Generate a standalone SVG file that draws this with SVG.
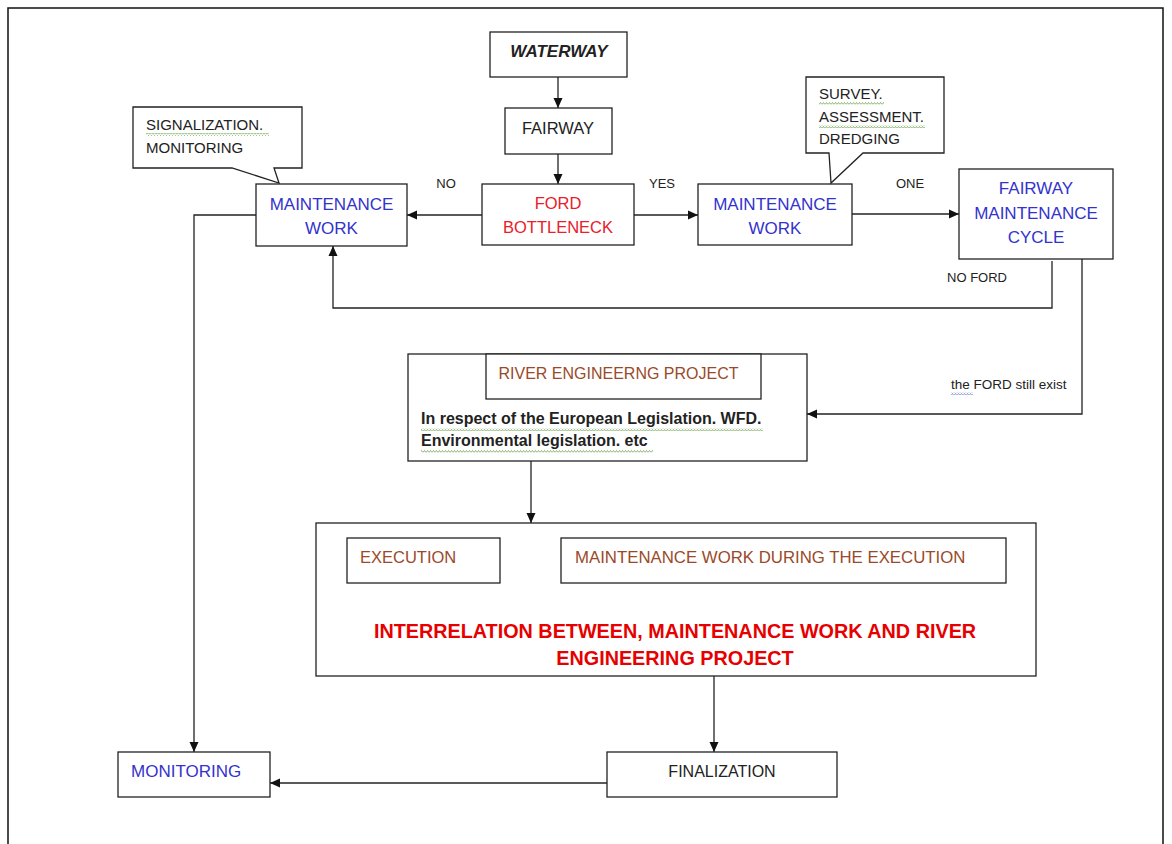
<svg xmlns="http://www.w3.org/2000/svg" width="1172" height="844" viewBox="0 0 1172 844">
<style>
  .box{fill:#fff;stroke:#222;stroke-width:1.3}
  .ln{fill:none;stroke:#222;stroke-width:1.3}
  text{font-family:"Liberation Sans",Arial,sans-serif;fill:#222}
  .blue{fill:#3333cc}
  .red{fill:#e8202a}
  .brown{fill:#9a4a2a}
  .c{text-anchor:middle}
  .lbl{font-size:13px}
</style>
<defs>
  <marker id="ah" markerUnits="userSpaceOnUse" markerWidth="10" markerHeight="10" refX="10" refY="5" orient="auto-start-reverse">
    <path d="M0,0.5 L10,5 L0,9.5 z" fill="#111"/>
  </marker>
  <pattern id="sq" patternUnits="userSpaceOnUse" width="3" height="3">
    <path d="M0,2.5 L1.5,0.5 L3,2.5" fill="none" stroke="#5a9a3a" stroke-width="0.7"/>
  </pattern>
  <pattern id="sqb" patternUnits="userSpaceOnUse" width="3" height="3">
    <path d="M0,2.5 L1.5,0.5 L3,2.5" fill="none" stroke="#5a6ad0" stroke-width="0.7"/>
  </pattern>
</defs>
<rect width="1172" height="844" fill="#fff"/>
<rect x="8" y="8" width="1155" height="850" fill="none" stroke="#111" stroke-width="1.5"/>

<g id="connectors">
  <path class="ln" d="M558,77 V108" marker-end="url(#ah)"/>
  <path class="ln" d="M558,154 V184" marker-end="url(#ah)"/>
  <path class="ln" d="M482,215 H407" marker-end="url(#ah)"/>
  <path class="ln" d="M634,215 H698" marker-end="url(#ah)"/>
  <path class="ln" d="M852,214 H959" marker-end="url(#ah)"/>
  <path class="ln" d="M1052,261 V308 H333 V246" marker-end="url(#ah)"/>
  <path class="ln" d="M1082,259 V414 H807" marker-end="url(#ah)"/>
  <path class="ln" d="M531,461 V523" marker-end="url(#ah)"/>
  <path class="ln" d="M500,568 H561" marker-start="url(#ah)" marker-end="url(#ah)"/>
  <path class="ln" d="M714,676 V752" marker-end="url(#ah)"/>
  <path class="ln" d="M607,783 H270" marker-end="url(#ah)"/>
  <path class="ln" d="M256,215 H194 V752" marker-end="url(#ah)"/>
  <text class="lbl c" x="446" y="188">NO</text>
  <text class="lbl c" x="662" y="188">YES</text>
  <text class="lbl c" x="910" y="188">ONE</text>
  <text class="lbl c" x="977" y="282">NO FORD</text>
  <text x="951" y="389" style="font-size:13.5px">the FORD still exist</text>
  <rect x="951" y="392" width="22" height="3" fill="url(#sqb)"/>
</g>

<g id="waterway">
  <rect class="box" x="490" y="32" width="137" height="45"/>
  <text class="c" x="559" y="57" style="font-size:17px;font-weight:bold;font-style:italic">WATERWAY</text>
</g>

<g id="fairway">
  <rect class="box" x="505" y="108" width="107" height="46"/>
  <text class="c" x="558" y="134" style="font-size:16.5px">FAIRWAY</text>
</g>

<g id="ford-bottleneck">
  <rect class="box" x="482" y="184" width="152" height="61"/>
  <text class="c red" x="558" y="209" style="font-size:16.5px">FORD</text>
  <text class="c red" x="558" y="233" style="font-size:16.5px">BOTTLENECK</text>
</g>

<g id="maintenance-work-left">
  <rect class="box" x="256" y="184" width="151" height="62"/>
  <text class="c blue" x="331.5" y="210" style="font-size:17px">MAINTENANCE</text>
  <text class="c blue" x="331.5" y="234" style="font-size:17px">WORK</text>
</g>

<g id="callout-signalization">
  <path class="box" d="M133,107 H302 V168 H274 L279,183 L232,168 H133 Z"/>
  <text x="146" y="130" style="font-size:15px">SIGNALIZATION.</text>
  <text x="146" y="153" style="font-size:15px">MONITORING</text>
  <rect x="146" y="133" width="123" height="3" fill="url(#sq)"/>
</g>

<g id="maintenance-work-right">
  <rect class="box" x="698" y="184" width="154" height="61"/>
  <text class="c blue" x="775" y="210" style="font-size:17px">MAINTENANCE</text>
  <text class="c blue" x="775" y="234" style="font-size:17px">WORK</text>
</g>

<g id="callout-survey">
  <path class="box" d="M806,77 H944 V153 H863 L831,183 L829,153 H806 Z"/>
  <text x="819" y="99" style="font-size:15px">SURVEY.</text>
  <text x="819" y="122" style="font-size:15px">ASSESSMENT.</text>
  <text x="819" y="144" style="font-size:15px">DREDGING</text>
  <rect x="819" y="102" width="65" height="3" fill="url(#sq)"/>
  <rect x="819" y="125" width="106" height="3" fill="url(#sq)"/>
</g>

<g id="fairway-maintenance-cycle">
  <rect class="box" x="959" y="169" width="154" height="90"/>
  <text class="c blue" x="1036" y="194" style="font-size:17px">FAIRWAY</text>
  <text class="c blue" x="1036" y="219" style="font-size:17px">MAINTENANCE</text>
  <text class="c blue" x="1036" y="243" style="font-size:17px">CYCLE</text>
</g>

<g id="river-engineering-project">
  <rect class="box" x="408" y="354" width="399" height="107"/>
  <rect class="box" x="486" y="354" width="275" height="45"/>
  <text class="c brown" x="618.5" y="379" style="font-size:16px">RIVER ENGINEERNG PROJECT</text>
  <text x="421" y="424" style="font-size:16px;font-weight:bold">In respect of the European Legislation. WFD.</text>
  <text x="421" y="446" style="font-size:16px;font-weight:bold">Environmental legislation. etc</text>
  <rect x="421" y="428" width="342" height="3" fill="url(#sq)"/>
  <rect x="421" y="450" width="232" height="3" fill="url(#sq)"/>
</g>

<g id="interrelation">
  <rect class="box" x="316" y="523" width="720" height="153"/>
  <text class="c red" x="675" y="638" style="font-size:19.8px;font-weight:bold;fill:#e60000">INTERRELATION BETWEEN, MAINTENANCE WORK AND RIVER</text>
  <text class="c red" x="675" y="665" style="font-size:19.8px;font-weight:bold;fill:#e60000">ENGINEERING PROJECT</text>
</g>

<g id="execution">
  <rect class="box" x="347" y="538" width="153" height="45"/>
  <text class="brown" x="360" y="563" style="font-size:16.5px">EXECUTION</text>
</g>

<g id="maintenance-during-execution">
  <rect class="box" x="561" y="538" width="445" height="45"/>
  <text class="brown" x="575" y="563" style="font-size:16.8px">MAINTENANCE WORK DURING THE EXECUTION</text>
</g>

<g id="monitoring">
  <rect class="box" x="118" y="752" width="152" height="45"/>
  <text class="blue" x="131" y="777" style="font-size:17px">MONITORING</text>
</g>

<g id="finalization">
  <rect class="box" x="607" y="752" width="230" height="45"/>
  <text class="c" x="722" y="777" style="font-size:16px">FINALIZATION</text>
</g>
</svg>
